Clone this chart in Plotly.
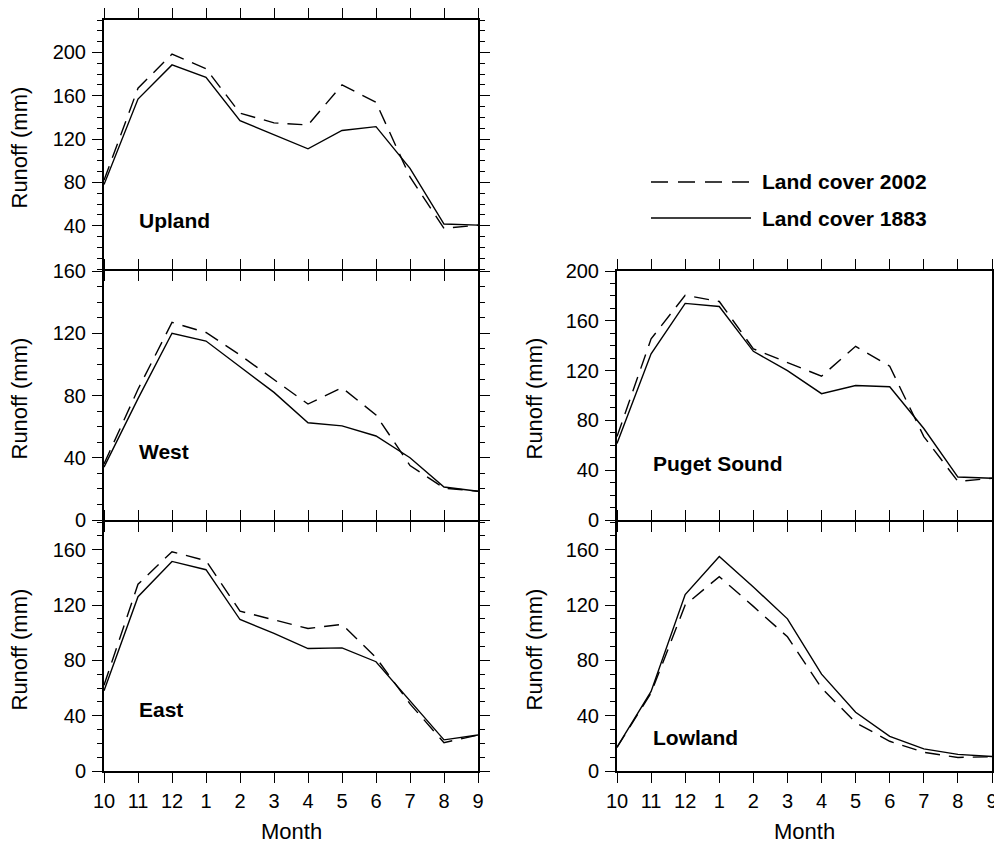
import plotly.graph_objects as go

months = ["10", "11", "12", "1", "2", "3", "4", "5", "6", "7", "8", "9"]

upland_2002 = [82, 167, 198.5, 185, 144, 135, 133, 170, 154, 85, 37.5, 40.5]
upland_1883 = [78, 157, 188.5, 177, 137, 124, 111, 128, 131.5, 93, 41.5, 40.5]

west_2002 = [36, 84, 127, 120.5, 106, 90, 74.5, 85, 67.5, 35, 20.5, 18.5]
west_1883 = [34, 78, 120, 115, 98.5, 82, 62.5, 60.5, 54, 40, 21.2, 18.5]

east_2002 = [62, 135, 158.5, 152, 115.5, 109, 103, 106, 82, 48.5, 20.5, 26]
east_1883 = [58, 126, 151.5, 145.5, 109.5, 99.5, 88.5, 89, 79, 51, 22.5, 26]

puget_2002 = [67, 145.5, 180.5, 175.5, 137.5, 126.5, 115.5, 139.5, 123.5, 67, 31, 33.5]
puget_1883 = [61.5, 133.5, 174, 171.5, 135.5, 120, 101.5, 108, 107, 73.5, 34.5, 33.5]

lowland_2002 = [17, 56.5, 120, 140.5, 119, 97, 60, 35, 21.5, 13.5, 9.8, 10.3]
lowland_1883 = [17.2, 57.5, 127.5, 155, 133, 110, 70, 42.5, 25, 16, 12, 10.5]

legend_labels = ["Land cover 2002", "Land cover 1883"]
panel_names = ["Upland", "West", "East", "Puget Sound", "Lowland"]
y_title = "Runoff (mm)"
x_title = "Month"

W, H = 994, 844
FONT = "Liberation Sans, Arial, Helvetica, sans-serif"
DASH = "15px,9px"
LW = 2
HL = LW / 2


def px_x(p):
    return p / W


def px_y(p):
    return 1 - p / H


# panel borders given as frame-line centres (pixels); plot areas sit inside by
# half a line width so shared borders of stacked panels coincide
LX0, LX1 = 103 + HL, 479 - HL
RX0, RX1 = 616 + HL, 993 - HL
panels = [
    (panel_names[0], upland_2002, upland_1883, (LX0, LX1), (19 + HL, 270 - HL), [0, 230], [40, 80, 120, 160, 200], False),
    (panel_names[1], west_2002, west_1883, (LX0, LX1), (270 + HL, 521 - HL), [0, 160], [0, 40, 80, 120, 160], False),
    (panel_names[2], east_2002, east_1883, (LX0, LX1), (521 + HL, 772 - HL), [0, 180], [0, 40, 80, 120, 160], True),
    (panel_names[3], puget_2002, puget_1883, (RX0, RX1), (270 + HL, 521 - HL), [0, 200], [0, 40, 80, 120, 160, 200], False),
    (panel_names[4], lowland_2002, lowland_1883, (RX0, RX1), (521 + HL, 772 - HL), [0, 180], [0, 40, 80, 120, 160], True),
]
label_pos = [(137, 220), (137, 451), (137, 709), (651, 463), (651, 737)]

fig = go.Figure()
annotations = []
layout = dict(
    width=W, height=H,
    margin=dict(l=0, r=0, t=0, b=0, pad=0, autoexpand=False),
    paper_bgcolor="white", plot_bgcolor="white",
    showlegend=False,
    font=dict(family=FONT, size=20, color="black"),
)

for i, (name, s02, s83, (x0, x1), (yt, yb), yr, tv, showx) in enumerate(panels):
    k = "" if i == 0 else str(i + 1)
    xa, ya = "x" + k, "y" + k
    fig.add_trace(go.Scatter(x=months, y=s02, mode="lines", xaxis=xa, yaxis=ya,
                             line=dict(color="black", width=1.4, dash=DASH),
                             name=legend_labels[0]))
    fig.add_trace(go.Scatter(x=months, y=s83, mode="lines", xaxis=xa, yaxis=ya,
                             line=dict(color="black", width=1.4),
                             name=legend_labels[1]))
    layout["xaxis" + k] = dict(
        domain=[px_x(x0), px_x(x1)], anchor=ya, type="category",
        categoryorder="array", categoryarray=months, automargin=False,
        range=[0, 11], showgrid=False, zeroline=False,
        showline=True, linecolor="black", linewidth=LW, mirror="ticks",
        ticks="outside", ticklen=10, tickwidth=1.4, tickcolor="black",
        showticklabels=showx, tickfont=dict(size=20, family=FONT),
        ticklabelstandoff=1,
    )
    layout["yaxis" + k] = dict(
        domain=[px_y(yb), px_y(yt)], anchor=xa, range=yr, automargin=False,
        tickmode="array", tickvals=tv, showgrid=False, zeroline=False,
        showline=True, linecolor="black", linewidth=LW, mirror="ticks",
        ticks="outside", ticklen=10, tickwidth=1.4, tickcolor="black",
        tickfont=dict(size=20, family=FONT), ticklabelstandoff=2,
        minor=dict(tickmode="linear", tick0=0, dtick=10, ticks="outside",
                   ticklen=5, tickwidth=1.2, tickcolor="black", showgrid=False),
    )
    lx, ly = label_pos[i]
    annotations.append(dict(text="<b>%s</b>" % name, x=px_x(lx), y=px_y(ly),
                            xref="paper", yref="paper", xanchor="left", yanchor="middle",
                            showarrow=False, font=dict(size=21, family=FONT)))
    tx = 19 if x0 < 300 else 534
    annotations.append(dict(text=y_title, x=px_x(tx), y=px_y((yt + yb) / 2 + 3),
                            xref="paper", yref="paper", xanchor="center", yanchor="middle",
                            textangle=-90, showarrow=False, font=dict(size=22, family=FONT)))
    if showx:
        annotations.append(dict(text=x_title, x=px_x((x0 + x1) / 2), y=px_y(831),
                                xref="paper", yref="paper", xanchor="center", yanchor="middle",
                                showarrow=False, font=dict(size=22, family=FONT)))

shapes = [
    dict(type="line", xref="paper", yref="paper", x0=px_x(651), x1=px_x(751),
         y0=px_y(182), y1=px_y(182), line=dict(color="black", width=1.4, dash="17px,10px")),
    dict(type="line", xref="paper", yref="paper", x0=px_x(651), x1=px_x(751),
         y0=px_y(218), y1=px_y(218), line=dict(color="black", width=1.4)),
]
for lbl, yy in zip(legend_labels, [182, 218]):
    annotations.append(dict(text="<b>%s</b>" % lbl, x=px_x(760), y=px_y(yy),
                            xref="paper", yref="paper", xanchor="left", yanchor="middle",
                            showarrow=False, font=dict(size=21, family=FONT)))

layout["annotations"] = annotations
layout["shapes"] = shapes
fig.update_layout(**layout)
fig.write_html("out.html")
